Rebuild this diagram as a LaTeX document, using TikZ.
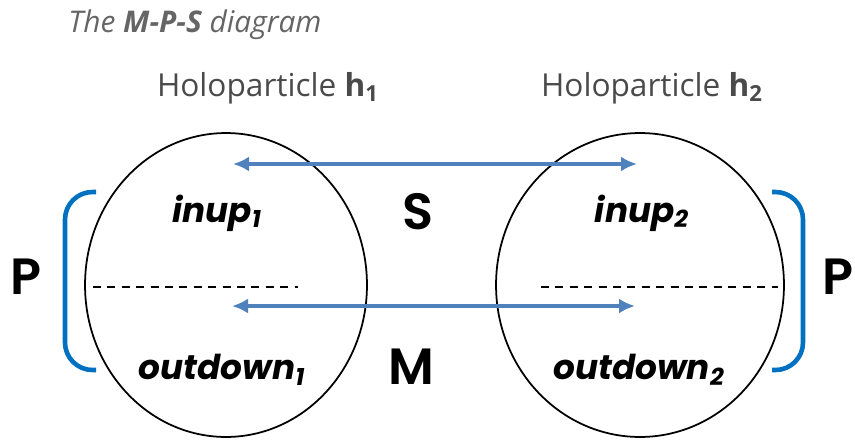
\documentclass[tikz,border=0pt]{standalone}
\usepackage{fontspec}
\setmainfont{Open Sans}
\newfontfamily\geofont{Poppins}
\newfontfamily\geosemi{Poppins}[UprightFont=* SemiBold]
\usepackage{xcolor}
\usetikzlibrary{arrows.meta,positioning,shapes.geometric}
\definecolor{mpsblue}{HTML}{4F81BD}
\definecolor{mpsbracecol}{HTML}{0070C0}
\definecolor{mpsgray}{HTML}{4A4A4A}
\tikzset{
mpsholo/.style={ellipse,draw,line width=1pt,inner sep=0pt,minimum height=6.08cm},
mpspart/.style={font=\geofont\bfseries\itshape\fontsize{19.5}{22}\selectfont,inner sep=1pt},
mpsletter/.style={font=\geosemi\fontsize{29}{31}\selectfont,inner sep=1pt},
mpshead/.style={font=\fontsize{18}{21}\selectfont,text=mpsgray,inner sep=1pt},
mpstitle/.style={font=\itshape\fontsize{17}{20}\selectfont,text=mpsgray!85,inner sep=1pt},
mpsarr/.style={{Latex[length=3.2mm,width=3mm]}-{Latex[length=3.2mm,width=3mm]},line width=2.2pt,mpsblue},
mpsbrack/.style={line width=2.6pt,mpsbracecol,rounded corners=0.55cm},
mpssplit/.style={line width=0.6pt,dash pattern=on 4.5pt off 3.7pt}
}
\begin{document}
\begin{tikzpicture}[
x=0.02cm,
y=-0.02cm
]
\useasboundingbox (0,0) rectangle (855,440);
\node[mpstitle] (title) at (195,25) {The \textbf{M-P-S} diagram};
\node[mpshead] (head1) at (268,88) {Holoparticle \textbf{h\textsubscript{1}}};
\node[mpshead] (head2) at (652,88) {Holoparticle \textbf{h\textsubscript{2}}};
\node[mpsholo,minimum width=5.64cm] (holo1) at (226,285) {};
\node[mpsholo,minimum width=5.76cm] (holo2) at (640,285) {};
\node[mpspart] (inup1) at (217,213) {inup\textsubscript{1}};
\node[mpspart] (outdown1) at (222,370) {outdown\textsubscript{1}};
\node[mpspart] (inup2) at (642,213) {inup\textsubscript{2}};
\node[mpspart] (outdown2) at (639,370) {outdown\textsubscript{2}};
\node[mpsletter] (sym) at (418,212) {S};
\node[mpsletter] (mut) at (411,367) {M};
\node[mpsletter] (partl) at (26,277) {P};
\node[mpsletter] (partr) at (838,277) {P};
\coordinate (s1) at (233,164);
\coordinate (s2) at (637,164);
\coordinate (m1) at (232,306);
\coordinate (m2) at (635,306);
\coordinate (cut1a) at (93,287);
\coordinate (cut1b) at (298,287);
\coordinate (cut2a) at (541,287);
\coordinate (cut2b) at (778,287);
\coordinate (bl1) at (96,192);
\coordinate (bl2) at (96,370);
\coordinate (br1) at (772,192);
\coordinate (br2) at (772,370);
\draw[mpssplit] (cut1a) -- (cut1b);
\draw[mpssplit] (cut2a) -- (cut2b);
\draw[mpsarr] (s1) -- (s2);
\draw[mpsarr] (m1) -- (m2);
\draw[mpsbrack] (bl1) -- (65,192) -- (65,370) -- (bl2);
\draw[mpsbrack] (br1) -- (803,192) -- (803,370) -- (br2);
\end{tikzpicture}
\end{document}
